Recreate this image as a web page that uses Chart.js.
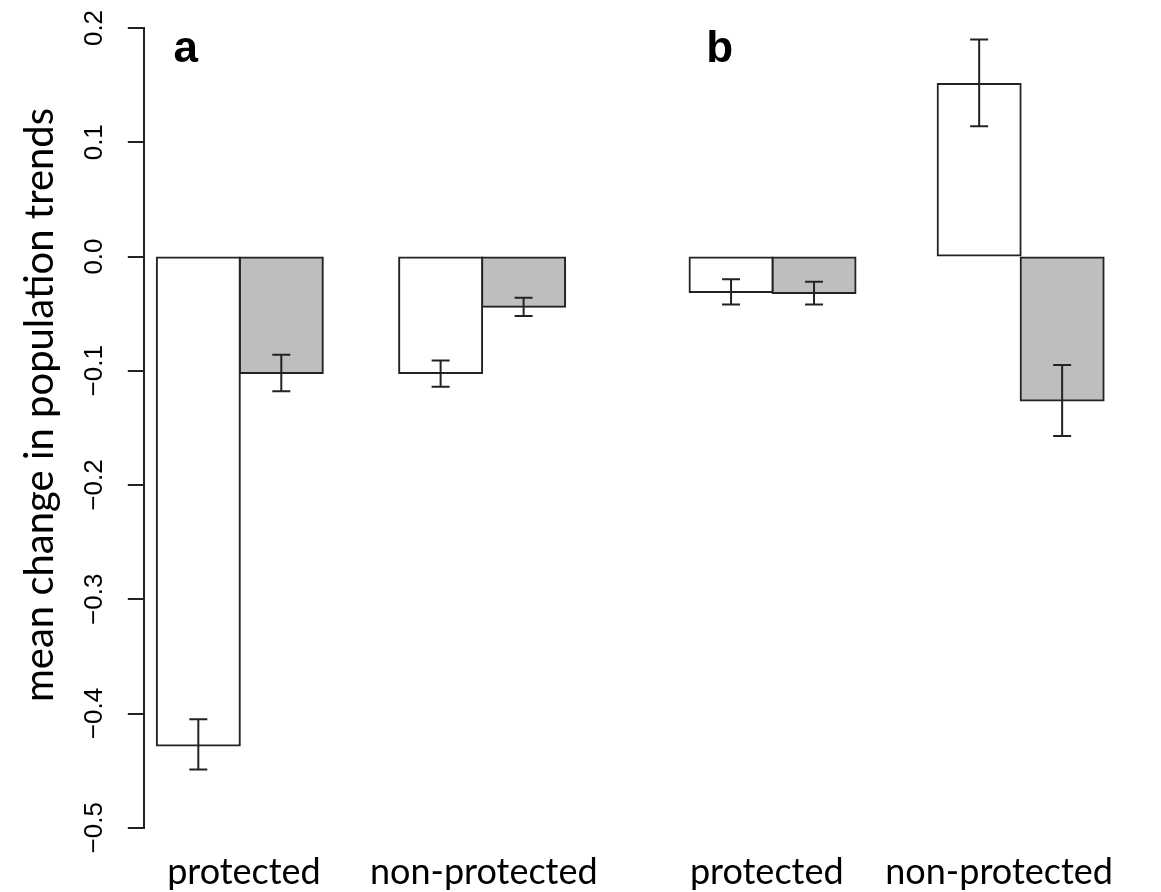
<!DOCTYPE html>
<html>
<head>
<meta charset="utf-8">
<script src="https://cdn.jsdelivr.net/npm/chart.js@4.4.0/dist/chart.umd.min.js"></script>
<style>
html, body { margin: 0; padding: 0; background: #fff; }
#wrap { width: 1161px; height: 892px; }
</style>
</head>
<body>
<div id="wrap"><canvas id="grafico"></canvas></div>
<script>
// dados
var categorias = ['protected', 'non-protected', 'protected', 'non-protected'];
var paineis = ['a', 'b'];
var valoresBrancos = [-0.428, -0.102, -0.031, 0.151];
var brancosMin = [-0.449, -0.114, -0.042, 0.114];
var brancosMax = [-0.405, -0.091, -0.020, 0.190];
var valoresCinza = [-0.102, -0.044, -0.032, -0.126];
var cinzaMin = [-0.118, -0.052, -0.042, -0.157];
var cinzaMax = [-0.086, -0.036, -0.022, -0.095];
var ticksY = [-0.5, -0.4, -0.3, -0.2, -0.1, 0.0, 0.1, 0.2];
var tituloY = 'mean change in population trends';

// layout (posicao dos grupos no eixo x, em larguras de barra)
var inicioGrupo = [0, 2.92, 6.42, 9.41];
var posLabel = [1.05, 3.94, 7.35, 10.15];
var painelGrupo = [0, 2]; // grupo onde fica a letra do painel

Chart.defaults.font.family = 'Lato';
Chart.defaults.color = '#000';

var extras = { // barras de erro, titulo do eixo y e letras dos paineis
    id: 'extras',
    afterDatasetsDraw: function (chart) {
        var ctx = chart.ctx;
        var sy = chart.scales.y, sx = chart.scales.x;
        var erros = [[brancosMin, brancosMax], [cinzaMin, cinzaMax]];
        ctx.save();
        ctx.strokeStyle = '#222';
        ctx.lineWidth = 2;
        for (var d = 0; d < 2; d++) {
            var meta = chart.getDatasetMeta(d);
            meta.data.forEach(function (bar, i) {
                var y1 = sy.getPixelForValue(erros[d][0][i]);
                var y2 = sy.getPixelForValue(erros[d][1][i]);
                ctx.beginPath();
                ctx.moveTo(bar.x, y1); ctx.lineTo(bar.x, y2);
                ctx.moveTo(bar.x - 9, y1); ctx.lineTo(bar.x + 9, y1);
                ctx.moveTo(bar.x - 9, y2); ctx.lineTo(bar.x + 9, y2);
                ctx.stroke();
            });
        }
        // letras a e b
        ctx.fillStyle = '#000';
        ctx.font = 'bold 44px "Liberation Sans"';
        ctx.textBaseline = 'alphabetic';
        ctx.textAlign = 'left';
        paineis.forEach(function (p, k) {
            ctx.fillText(p, sx.getPixelForValue(inicioGrupo[painelGrupo[k]] + 0.2), sy.getPixelForValue(0.17));
        });
        // titulo do eixo y
        ctx.translate(40, 405);
        ctx.rotate(-Math.PI / 2);
        ctx.font = '40px Lato';
        ctx.textAlign = 'center';
        ctx.textBaseline = 'middle';
        ctx.fillText(tituloY, 0, 0);
        ctx.restore();
    }
};

var ctx = document.getElementById('grafico');
var myChart = new Chart(ctx, {
    type: 'bar',
    data: {
        datasets: [{
            data: categorias.map(function (c, i) { return { x: inicioGrupo[i] + 0.5, y: valoresBrancos[i] }; }),
            backgroundColor: '#ffffff',
            borderColor: '#222',
            borderWidth: 2,
            borderSkipped: false,
            inflateAmount: 1,
            grouped: false,
            barPercentage: 1,
            categoryPercentage: 1
        }, {
            data: categorias.map(function (c, i) { return { x: inicioGrupo[i] + 1.5, y: valoresCinza[i] }; }),
            backgroundColor: '#bebebe',
            borderColor: '#222',
            borderWidth: 2,
            borderSkipped: false,
            inflateAmount: 1,
            grouped: false,
            barPercentage: 1,
            categoryPercentage: 1
        }]
    },
    options: {
        responsive: true,
        maintainAspectRatio: false,
        animation: false,
        layout: { padding: { left: 82, right: 25, top: 28, bottom: -25 } },
        plugins: { legend: { display: false }, tooltip: { enabled: false } },
        scales: {
            x: {
                type: 'linear',
                min: -0.157,
                max: 11.8,
                offset: false,
                grid: { display: false, drawTicks: false },
                border: { display: false },
                afterBuildTicks: function (axis) {
                    axis.ticks = posLabel.map(function (v) { return { value: v }; });
                },
                ticks: {
                    autoSkip: false,
                    maxRotation: 0,
                    padding: 23,
                    color: '#000',
                    font: { size: 36 },
                    callback: function (v, i) { return categorias[i]; }
                }
            },
            y: {
                min: -0.5,
                max: 0.2,
                afterBuildTicks: function (axis) {
                    axis.ticks = ticksY.map(function (v) { return { value: v }; });
                },
                grid: { drawOnChartArea: false, drawTicks: true, tickLength: 16, color: '#222', lineWidth: 2 },
                border: { display: true, color: '#222', width: 2 },
                ticks: {
                    minRotation: 90,
                    maxRotation: 90,
                    crossAlign: 'center',
                    padding: 7.3,
                    color: '#000',
                    font: { family: 'Liberation Sans', size: 26 },
                    callback: function (v) { return (v < 0 ? '\u2212' : '') + Math.abs(v).toFixed(1); }
                }
            }
        }
    },
    plugins: [extras]
});
</script>
</body>
</html>
